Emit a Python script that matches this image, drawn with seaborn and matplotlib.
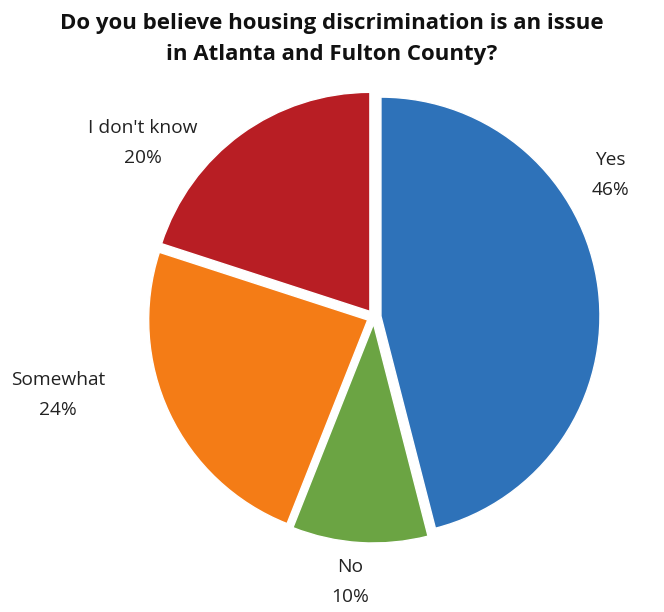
import matplotlib
matplotlib.use("Agg")
import matplotlib.pyplot as plt
import seaborn as sns

categories = ["Yes", "No", "Somewhat", "I don't know"]
values = [46, 10, 24, 20]
colors = ["#2E72B9", "#6BA443", "#F47C16", "#B81E24"]

sns.set_theme(style="white")
plt.rcParams['font.family'] = ['Open Sans', 'DejaVu Sans']

W, H = 664, 612
fig = plt.figure(figsize=(W / 100, H / 100), dpi=100)
ax = fig.add_axes([0, 0, 1, 1])

palette = sns.color_palette(colors)
labels = [f"{c}\n{v}%" for c, v in zip(categories, values)]
wedges, texts = ax.pie(values, labels=labels, colors=palette, startangle=90,
                       counterclock=False, center=(374, H - 317), radius=219,
                       explode=[7, 7, 7, 7], frame=True,
                       wedgeprops=dict(edgecolor="white", linewidth=1),
                       textprops=dict(fontsize=13.8, color="#222222",
                                      ha="center", va="center",
                                      linespacing=1.8))
ax.set_xlim(0, W)
ax.set_ylim(0, H)
ax.set_aspect('equal')
ax.axis('off')

label_pos = [(610, 175), (350, 582), (58, 395), (143, 143)]
for t, (x, y) in zip(texts, label_pos):
    t.set_position((x, H - y))
    t.set_ha("center")
    t.set_va("center")

fig.text(0.5, 1 - 39 / H,
         "Do you believe housing discrimination is an issue\nin Atlanta and Fulton County?",
         ha="center", va="center", fontsize=16, fontweight="bold",
         color="#111111", linespacing=1.65)

fig.savefig("out.png", dpi=100, facecolor="white")
